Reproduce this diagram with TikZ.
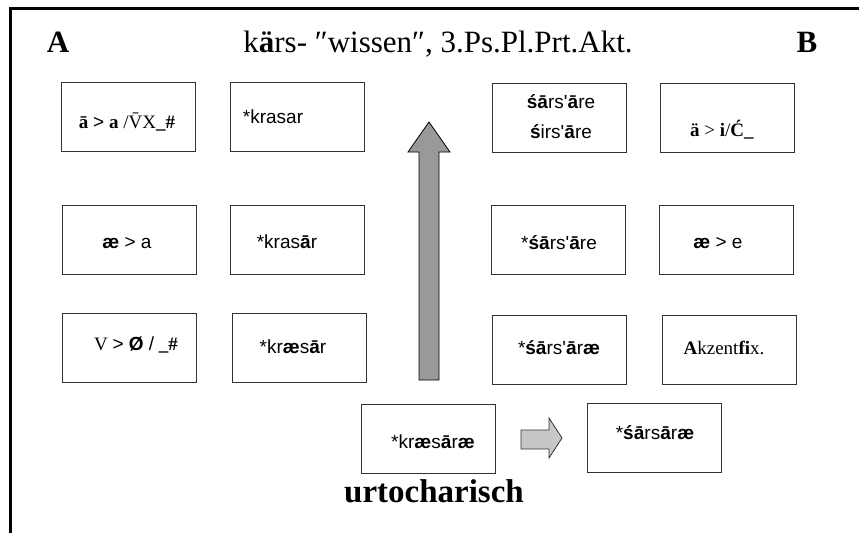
\documentclass[tikz,border=0pt]{standalone}
\usepackage{fontspec}
\setmainfont{Liberation Serif}
\setsansfont{Liberation Sans}[Ligatures=TeXOff]
\begin{document}
\begin{tikzpicture}[x=1pt,y=-1pt,
  box/.style={draw=black!80, line width=1pt, minimum width=134pt, minimum height=69pt, inner sep=0pt, anchor=north west},
  form/.style={font=\sffamily\fontsize{19}{24}\selectfont, inner sep=0pt},
  rulet/.style={font=\rmfamily\fontsize{19}{24}\selectfont, inner sep=0pt},
  head/.style={font=\rmfamily\fontsize{31}{35}\selectfont, inner sep=0pt, anchor=base},
  bigarrow/.style={draw=black, line width=0.8pt, fill=black!40},
  smallarrow/.style={draw=black!80, line width=0.8pt, fill=black!22},
  frameline/.style={line width=3pt}
]
\useasboundingbox (0,0) rectangle (859,533);
% frame
\coordinate (fbl) at (10.5,533);
\coordinate (ftl) at (10.5,8.5);
\coordinate (ftr) at (859,8.5);
\draw[frameline] (fbl) -- (ftl) -- (ftr);
% headings
\node[head] (hA) at (58,52) {\bfseries A};
\node[head] (hB) at (807,52) {\bfseries B};
\node[head] (title) at (438,52) {k\textbf{ä}rs- ″wissen″, 3.Ps.Pl.Prt.Akt.};
\node[head, font=\rmfamily\bfseries\fontsize{33}{37}\selectfont] (urt) at (434,502) {urtocharisch};
% boxes
\node[box] (b1) at (61,82) {};
\node[box] (b2) at (230,82) {};
\node[box] (b3) at (492,83) {};
\node[box] (b4) at (660,83) {};
\node[box] (b5) at (62,205) {};
\node[box] (b6) at (230,205) {};
\node[box] (b7) at (491,205) {};
\node[box] (b8) at (659,205) {};
\node[box] (b9) at (62,313) {};
\node[box] (b10) at (232,313) {};
\node[box] (b11) at (492,315) {};
\node[box] (b12) at (662,315) {};
\node[box] (b13) at (361,404) {};
\node[box] (b14) at (587,403) {};
% texts
\node[rulet] (t1) at (127,122) {\textbf{ā} \textsf{>} \textbf{a} /\=VX\textbf{\_\#}};
\node[form] (t2) at (273,117) {*krasar};
\node[form] (t3a) at (561,102) {\textbf{śā}rs'\textbf{ā}re};
\node[form] (t3b) at (561,132) {\textbf{ś}irs'\textbf{ā}re};
\node[rulet] (t4) at (722,130) {\textbf{ä} > \textbf{i}/\textbf{Ć\_}};
\node[form] (t5) at (127,243) {\textbf{æ} > a};
\node[form] (t6) at (287,242) {*kras\textbf{ā}r};
\node[form] (t7) at (559,243) {*\textbf{śā}rs'\textbf{ā}re};
\node[form] (t8) at (718,243) {\textbf{æ} > e};
\node[rulet] (t9) at (136,345) {V \textsf{> \textbf{Ø} /} \textbf{\_\#}};
\node[form] (t10) at (293,347) {*kr\textbf{æ}s\textbf{ā}r};
\node[form] (t11) at (559,348) {*\textbf{śā}rs'\textbf{ā}r\textbf{æ}};
\node[rulet] (t12) at (724,348) {\textbf{A}kzent\textbf{fi}x.};
\node[form] (t13) at (433,442) {*kr\textbf{æ}s\textbf{ā}r\textbf{æ}};
\node[form] (t14) at (655,433) {*\textbf{śā}rs\textbf{ā}r\textbf{æ}};
% vertical arrow
\draw[bigarrow] (419,380) -- (419,152) -- (408,152) -- (429,122) -- (450,152) -- (439,152) -- (439,380) -- cycle;
% horizontal arrow
\draw[smallarrow] (521,430) -- (549,430) -- (549,418) -- (562,438) -- (549,458) -- (549,449) -- (521,449) -- cycle;
\end{tikzpicture}
\end{document}
